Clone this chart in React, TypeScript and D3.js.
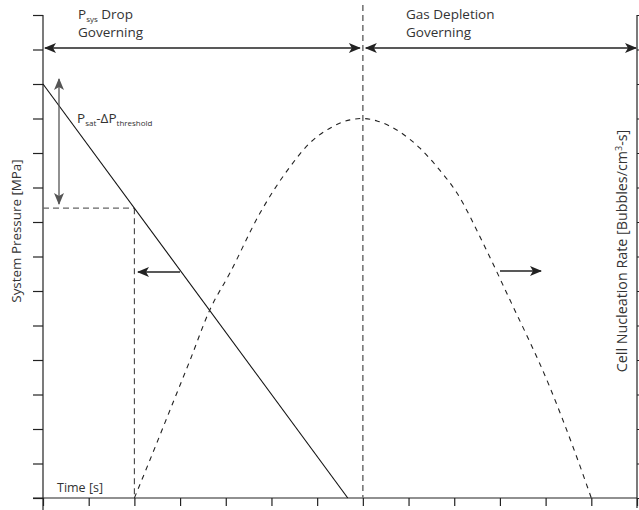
import React, { useEffect, useRef } from 'react';
import * as d3 from 'd3';

// x: time ticks 0..13, y: pressure ticks 0..14 (no tick labels in the figure)
const xTicks = d3.range(0, 14);
const yTicks = d3.range(0, 15);

// system pressure, falling linearly
const pressure: [number, number][] = [
  [0, 12],
  [6.67, 0],
];

// cell nucleation rate (dashed)
const nucleation: [number, number][] = [
  [2.0, 0], [2.34, 1.1], [2.78, 2.55], [3.22, 4.0], [3.65, 5.45], [4.09, 6.52],
  [4.75, 8.26], [5.4, 9.59], [5.84, 10.29], [6.28, 10.72], [6.72, 10.96], [7.0, 11.0],
  [7.31, 10.93], [7.81, 10.61], [8.25, 10.14], [8.64, 9.57], [9.06, 8.84],
  [9.63, 7.39], [10.17, 5.88], [11.09, 3.22], [11.6, 1.48], [12.0, 0],
];

const thresholdTime = 2;
const thresholdPressure = 8.4;
const switchTime = 7;

const W = 639;
const H = 510;
const FONT = '"Open Sans", "Noto Sans", sans-serif';

const App: React.FC = () => {
  const svgRef = useRef<SVGSVGElement>(null);

  useEffect(() => {
    if (!svgRef.current) return;
    const svg = d3.select(svgRef.current);
    svg.selectAll('*').remove();

    const x = d3.scaleLinear().domain([0, 13]).range([43, 637]);
    const y = d3.scaleLinear().domain([0, 14]).range([498, 15]);

    const defs = svg.append('defs');
    const marker = (id: string, color: string) =>
      defs.append('marker')
        .attr('id', id)
        .attr('viewBox', '-1 -6 14 12')
        .attr('refX', 11)
        .attr('refY', 0)
        .attr('markerWidth', 14)
        .attr('markerHeight', 12)
        .attr('markerUnits', 'userSpaceOnUse')
        .attr('orient', 'auto-start-reverse')
        .append('path')
        .attr('d', 'M0,-5 L12,0 L0,5 L3,0 Z')
        .attr('fill', color);
    marker('arrow', '#222');
    marker('arrowGray', '#555');

    // axes
    svg.append('g')
      .attr('transform', `translate(${x(0)},0)`)
      .call(d3.axisLeft(y).tickValues(yTicks).tickSize(10).tickSizeOuter(0).tickFormat(() => ''))
      .call(g => g.select('.domain').attr('d', `M0,${y(14)}V${H}`));
    svg.append('g')
      .attr('transform', `translate(${x(13)},0)`)
      .call(d3.axisRight(y).tickValues(yTicks).tickSize(6).tickSizeOuter(0).tickFormat(() => ''))
      .call(g => g.select('.domain').attr('d', `M0,${y(14)}V${H - 2}`));
    svg.append('g')
      .attr('transform', `translate(0,${y(0)})`)
      .call(d3.axisBottom(x).tickValues(xTicks).tickSize(8).tickSizeOuter(0).tickFormat(() => ''))
      .call(g => g.select('.domain').attr('d', `M33,0H${x(13)}`));
    svg.selectAll('.domain, .tick line').attr('stroke', '#222').attr('stroke-width', 1.2);

    // threshold guides
    svg.append('line')
      .attr('x1', x(0)).attr('x2', x(thresholdTime))
      .attr('y1', y(thresholdPressure)).attr('y2', y(thresholdPressure))
      .attr('stroke', '#666').attr('stroke-width', 1.3).attr('stroke-dasharray', '6,4');
    svg.append('line')
      .attr('x1', x(thresholdTime)).attr('x2', x(thresholdTime))
      .attr('y1', y(thresholdPressure)).attr('y2', y(0))
      .attr('stroke', '#444').attr('stroke-width', 1.1).attr('stroke-dasharray', '6,4');
    svg.append('line')
      .attr('x1', x(switchTime)).attr('x2', x(switchTime))
      .attr('y1', 5).attr('y2', y(0))
      .attr('stroke', '#777').attr('stroke-width', 1.6).attr('stroke-dasharray', '6,4');

    const line = d3.line<[number, number]>().x(d => x(d[0])).y(d => y(d[1]));

    svg.append('path')
      .attr('d', line(pressure))
      .attr('fill', 'none').attr('stroke', '#111').attr('stroke-width', 1.1);

    svg.append('path')
      .attr('d', line.curve(d3.curveMonotoneX)(nucleation))
      .attr('fill', 'none').attr('stroke', '#222').attr('stroke-width', 1.1)
      .attr('stroke-dasharray', '5,5');

    // regime arrows
    const arrow = (x1: number, y1: number, x2: number, y2: number, both: boolean, color = '#222', id = 'arrow') => {
      const l = svg.append('line')
        .attr('x1', x1).attr('y1', y1).attr('x2', x2).attr('y2', y2)
        .attr('stroke', color).attr('stroke-width', 1.3)
        .attr('marker-end', `url(#${id})`);
      if (both) l.attr('marker-start', `url(#${id})`);
    };
    arrow(45, 48, x(switchTime) - 3, 48, true);
    arrow(x(switchTime) + 3, 48, x(13) - 1, 48, true);
    arrow(59, 79, 59, 204, true, '#555', 'arrowGray');
    arrow(180, 272, 138, 272, false);
    arrow(500, 271, 541, 271, false);

    // text
    const text = (tx: number, ty: number, size = 13.5) =>
      svg.append('text').attr('x', tx).attr('y', ty)
        .attr('font-family', FONT).attr('font-size', size).attr('fill', '#333');

    const t1 = text(78, 19);
    t1.append('tspan').text('P');
    t1.append('tspan').attr('font-size', 8).attr('dy', 3).text('sys');
    t1.append('tspan').attr('dy', -3).text(' Drop');
    text(78, 37).text('Governing');
    text(406, 19).text('Gas Depletion');
    text(406, 37).text('Governing');

    const t2 = text(77, 123);
    t2.append('tspan').text('P');
    t2.append('tspan').attr('font-size', 8).attr('dy', 3).text('sat');
    t2.append('tspan').attr('dy', -3).text('-ΔP');
    t2.append('tspan').attr('font-size', 8).attr('dy', 3).text('threshold');

    text(57, 492, 12.5).text('Time [s]');

    text(0, 0, 13.4)
      .attr('transform', `translate(21,231) rotate(-90)`)
      .attr('text-anchor', 'middle')
      .text('System Pressure [MPa]');

    const t3 = text(0, 0, 14.3)
      .attr('transform', `translate(627,251) rotate(-90)`)
      .attr('text-anchor', 'middle');
    t3.append('tspan').text('Cell Nucleation Rate [Bubbles/cm');
    t3.append('tspan').attr('font-size', 9).attr('dy', -5).text('3');
    t3.append('tspan').attr('dy', 5).text('-s]');
  }, []);

  return (
    <svg ref={svgRef} width={W} height={H}
      style={{ position: 'absolute', left: 0, top: 0, background: '#fff' }} />
  );
};

export default App;
